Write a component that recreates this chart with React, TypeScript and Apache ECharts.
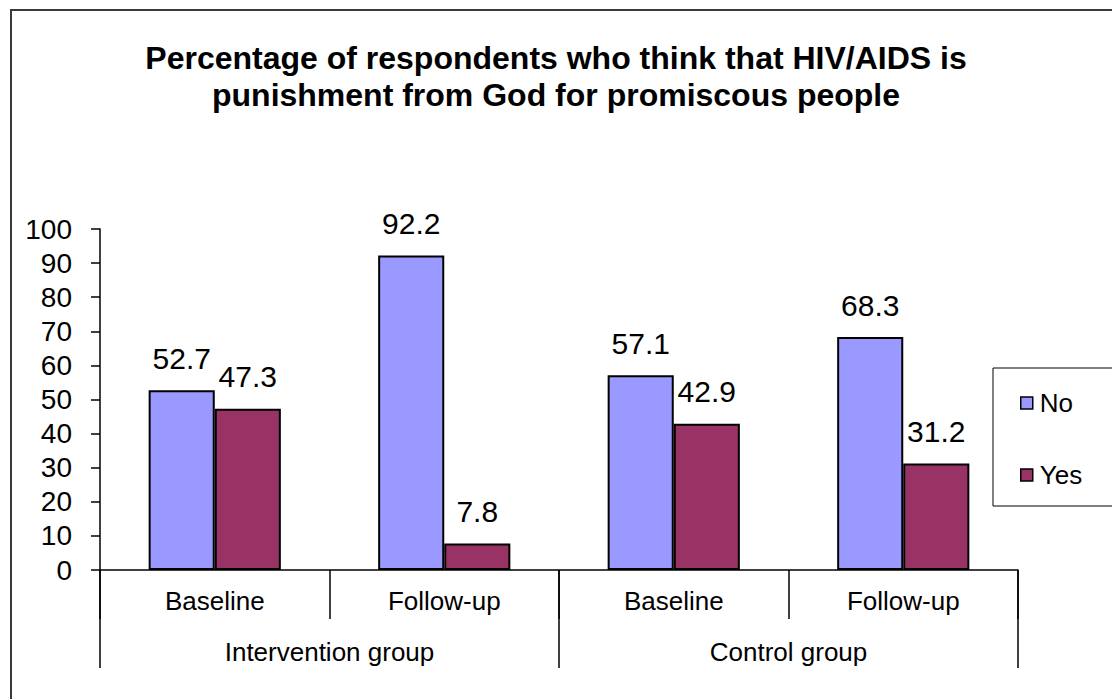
import React, { useEffect, useRef } from "react";
import * as echarts from "echarts";

const subCategories = ["Baseline", "Follow-up", "Baseline", "Follow-up"];
const groupCategories = ["Intervention group", "Control group"];
const noValues = [52.7, 92.2, 57.1, 68.3];
const yesValues = [47.3, 7.8, 42.9, 31.2];
const titleText = "Percentage of respondents who think that HIV/AIDS is\npunishment from God for promiscous people";

const FONT = "'Liberation Sans', Arial, Helvetica, sans-serif";

export default function App() {
  const ref = useRef<HTMLDivElement>(null);
  useEffect(() => {
    if (!ref.current) return;
    const chart = echarts.init(ref.current, undefined, { renderer: "svg" });
    const labelCfg = {
      show: true,
      position: "top",
      distance: 17,
      fontSize: 30,
      color: "#000",
      fontFamily: FONT,
    };
    chart.setOption({
      animation: false,
      backgroundColor: "#fff",
      title: {
        text: titleText,
        left: "center",
        top: 39,
        padding: 0,
        textStyle: {
          fontSize: 32,
          fontWeight: "bold",
          lineHeight: 37,
          color: "#000",
          fontFamily: FONT,
        },
      },
      graphic: [
        {
          type: "rect",
          shape: { x: 11, y: 10, width: 1300, height: 900 },
          style: { fill: "none", stroke: "#3a3a3a", lineWidth: 2 },
          silent: true,
          z: -10,
        },
        {
          type: "rect",
          shape: { x: 993, y: 368, width: 300, height: 138 },
          style: { fill: "none", stroke: "#000", lineWidth: 1 },
          silent: true,
        },
      ],
      legend: {
        orient: "vertical",
        left: 1020,
        top: 390,
        itemWidth: 12,
        itemHeight: 12,
        itemGap: 46,
        icon: "rect",
        padding: 0,
        itemStyle: { borderColor: "#000", borderWidth: 1.5 },
        textStyle: { fontSize: 26, color: "#000", fontFamily: FONT, padding: [0, 0, 0, 2] },
        data: ["No", "Yes"],
      },
      grid: {
        left: 100,
        top: 229,
        width: 918,
        height: 341,
        containLabel: false,
      },
      xAxis: [
        {
          type: "category",
          data: subCategories,
          position: "bottom",
          axisLine: { show: true, lineStyle: { color: "#000", width: 1.5 } },
          axisTick: { show: true, length: 49, inside: false, alignWithLabel: false, lineStyle: { color: "#000", width: 1.5 } },
          axisLabel: { fontSize: 26, color: "#000", fontFamily: FONT, margin: 18, interval: 0 },
        },
        {
          type: "category",
          data: groupCategories,
          position: "bottom",
          axisLine: { show: false },
          axisTick: { show: true, length: 98, inside: false, alignWithLabel: false, lineStyle: { color: "#000", width: 1.5 } },
          axisLabel: { fontSize: 26, color: "#000", fontFamily: FONT, margin: 69, interval: 0 },
        },
      ],
      yAxis: {
        type: "value",
        min: 0,
        max: 100,
        interval: 10,
        splitLine: { show: false },
        axisLine: { show: true, lineStyle: { color: "#000", width: 1.5 } },
        axisTick: { show: true, length: 9, inside: false, lineStyle: { color: "#000", width: 1.5 } },
        axisLabel: { fontSize: 28, color: "#000", fontFamily: FONT, margin: 28 },
      },
      series: [
        {
          name: "No",
          type: "bar",
          xAxisIndex: 0,
          data: noValues,
          barWidth: "28.8%",
          barGap: "0%",
          itemStyle: { color: "#9999FF", borderColor: "#000", borderWidth: 2 },
          label: labelCfg,
        },
        {
          name: "Yes",
          type: "bar",
          xAxisIndex: 0,
          data: yesValues,
          barWidth: "28.8%",
          barGap: "0%",
          itemStyle: { color: "#993366", borderColor: "#000", borderWidth: 2 },
          label: labelCfg,
        },
      ],
    });
    return () => chart.dispose();
  }, []);
  return (
    <div
      ref={ref}
      style={{ position: "fixed", left: 0, top: 0, width: 1112, height: 699 }}
    />
  );
}
